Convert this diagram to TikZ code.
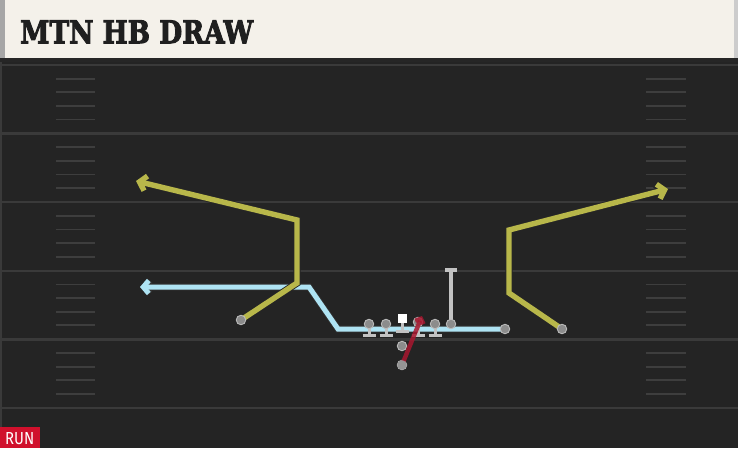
\documentclass[tikz,border=0pt]{standalone}
\usepackage{fontspec}
\usetikzlibrary{arrows.meta}
\newfontfamily\titlefont[BoldFeatures={FakeBold=3}]{DejaVu Serif}
\newfontfamily\runfont{Fira Sans}
\definecolor{fieldbg}{HTML}{242424}
\definecolor{headerbg}{HTML}{F4F1EA}
\definecolor{yardline}{HTML}{3A3A3A}
\definecolor{hashline}{HTML}{3E3E3E}
\definecolor{routeyellow}{HTML}{B8B74A}
\definecolor{routeblue}{HTML}{AEE3F3}
\definecolor{routered}{HTML}{A8172F}
\definecolor{playergray}{HTML}{8C8C8C}
\definecolor{blockgray}{HTML}{C2C2C2}
\definecolor{runred}{HTML}{D0102C}
\pgfdeclarelayer{bg}
\pgfdeclarelayer{routes}
\pgfsetlayers{bg,routes,main}
\tikzset{
  yard/.style={draw=yardline, line width=2.5pt},
  hashmark/.style={draw=hashline, line width=1.8pt},
  player/.style={circle, fill=playergray, draw=playergray!60!white, line width=0.9pt, minimum size=9.5pt, inner sep=0pt},
  centerbox/.style={rectangle, fill=white, minimum size=9pt, inner sep=0pt},
  blockline/.style={draw=blockgray, line width=3pt},
  yroute/.style={draw=routeyellow, line width=5.4pt, line join=miter,
     preaction={draw=black!85, line width=7.2pt, line join=miter}},
  broute/.style={draw=routeblue, line width=5pt, line join=miter,
     preaction={draw=black!80, line width=6.6pt, line join=miter}},
  ytip/.style={-{Straight Barb[length=6.5pt,width=15pt]}},
  rroute/.style={draw=routered, line width=4.4pt, opacity=0.85},
}
\begin{document}
\begin{tikzpicture}[x=1pt,y=-1pt]
\useasboundingbox (0,0) rectangle (738,448);
\begin{pgfonlayer}{bg}
  \fill[fieldbg] (0,0) rectangle (738,448);
  \fill[yardline] (0,62) rectangle (2,448);
  \foreach \k in {0,...,5} {
    \draw[yard] (0,{65+68.6*\k}) -- (738,{65+68.6*\k});
  }
  \foreach \k in {0,...,4} {
    \foreach \j in {1,...,4} {
      \draw[hashmark] (56,{65+68.6*\k+13.6*\j}) -- (95,{65+68.6*\k+13.6*\j});
      \draw[hashmark] (646,{65+68.6*\k+13.6*\j}) -- (686,{65+68.6*\k+13.6*\j});
    }
  }
  \fill[black!85] (0,57) rectangle (738,62);
  \fill[headerbg] (0,0) rectangle (738,58);
  \fill[black!35] (0,0) rectangle (5,58);
  \fill[black!20] (734,0) rectangle (738,58);
  \node[anchor=south west, inner sep=0pt, text=black!88] (title) at (20,43.5)
    {\resizebox{233pt}{23pt}{\titlefont\bfseries MTN HB DRAW}};
  \fill[runred] (0,427) rectangle (40,448);
  \node[anchor=south west, inner sep=0pt, text=white] (run) at (5,445)
    {\resizebox{29pt}{12pt}{\runfont RUN}};
\end{pgfonlayer}

% positions
\coordinate (plwr) at (241,320);
\coordinate (prwr) at (562,329);
\coordinate (pslot) at (505,329);
\coordinate (pte) at (451,324);
\coordinate (phb) at (402,365);

% route waypoints
\coordinate (l1) at (297,283);
\coordinate (l2) at (297,220);
\coordinate (l3) at (136,181);
\coordinate (r1) at (509,293);
\coordinate (r2) at (509,230);
\coordinate (r3) at (668,189);
\coordinate (b1) at (338,329);
\coordinate (b2) at (309,287);
\coordinate (b3) at (140,287);
\coordinate (hbend) at (422,316);
\coordinate (tetop) at (451,270);

\begin{pgfonlayer}{routes}
  \draw[broute, -{Straight Barb[length=5.5pt,width=13pt]}] (pslot) -- (b1) -- (b2) -- (b3);
  \draw[yroute, ytip] (plwr) -- (l1) -- (l2) -- (l3);
  \draw[yroute, ytip] (prwr) -- (r1) -- (r2) -- (r3);
\end{pgfonlayer}

% blocks
\foreach \x in {369,386,418,435} {
  \draw[blockline] (\x,324) -- (\x,335);
  \draw[blockline] (\x-6.5,335) -- (\x+6.5,335);
}
\draw[blockline] (402,318) -- (402,331);
\draw[blockline] (395.5,331) -- (408.5,331);
\draw[blockline, line width=4pt] (pte) -- (tetop);
\draw[blockline, line width=3.5pt] (445,270) -- (457,270);

% players
\node[player] (lwr) at (plwr) {};
\node[player] (rwr) at (prwr) {};
\node[player] (slot) at (pslot) {};
\node[player] (te) at (pte) {};
\node[player] (lt) at (369,324) {};
\node[player] (lg) at (386,324) {};
\node[centerbox] (c) at (402,318) {};
\node[player] (rg) at (418,322) {};
\node[player] (rt) at (435,324) {};
\node[player] (qb) at (402,346) {};
\node[player] (hb) at (phb) {};

\draw[rroute, -{Straight Barb[length=4pt,width=9pt]}] (hb.center) -- (hbend);
\node[player, fill=black!42, draw=none] at (hb) {};
\end{tikzpicture}
\end{document}
